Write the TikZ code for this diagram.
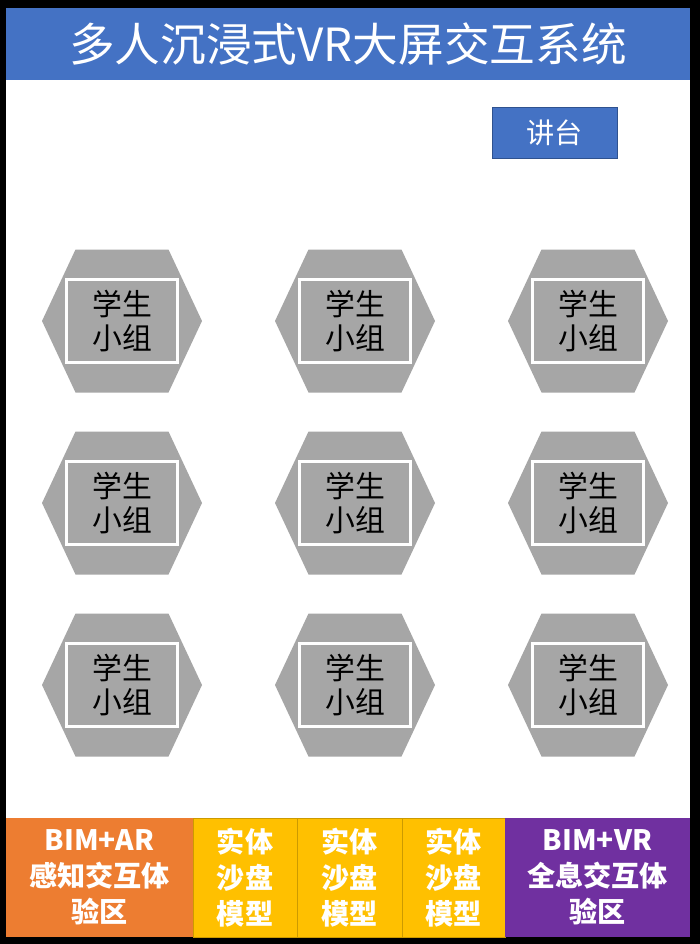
\documentclass[tikz,border=0pt]{standalone}
\usepackage{fontspec}
\setmainfont{Noto Sans CJK SC}
\definecolor{titleblue}{HTML}{4472C4}
\definecolor{podiumline}{HTML}{2F528F}
\definecolor{hexgray}{HTML}{A6A6A6}
\definecolor{zoneorange}{HTML}{ED7D31}
\definecolor{zoneyellow}{HTML}{FFC000}
\definecolor{zonepurple}{HTML}{7030A0}
\begin{document}
\begin{tikzpicture}[
        x=0.02cm, y=-0.02cm,
        every node/.style={inner sep=0pt, align=center},
        groupbox/.style={draw=white, line width=0.06cm, fill=hexgray,
            minimum width=2.22cm, minimum height=1.66cm,
            font=\fontsize{17}{19}\selectfont},
        zone/.style={minimum height=2.38cm, text=white,
            font=\fontsize{16}{20.5}\selectfont\bfseries}
    ]
        % frame
        \fill[black] (0,0) rectangle (700,944);
        \fill[white] (6,8) rectangle (690,937);
        % title and podium
        \node[fill=titleblue, minimum width=13.68cm, minimum height=1.44cm,
            text=white, font=\fontsize{26}{30}\selectfont] (title) at (348,44)
            {多人沉浸式VR大屏交互系统};
        \node[fill=titleblue, draw=podiumline, thin, minimum width=2.5cm,
            minimum height=1.02cm, text=white, font=\fontsize{16}{18}\selectfont]
            (podium) at (554.5,132.5) {讲台};
        % student groups
        \foreach \cx [count=\i] in {122,355,588}
            \foreach \ry [count=\j] in {321,503,685} {
                \fill[hexgray] (\cx-80,\ry) -- (\cx-46.5,\ry-71.5) -- (\cx+46.5,\ry-71.5)
                    -- (\cx+80,\ry) -- (\cx+46.5,\ry+71.5) -- (\cx-46.5,\ry+71.5) -- cycle;
                \node[groupbox] (group\j\i) at (\cx,\ry) {学生\\小组};
            }
        % bottom zones
        \node[zone, fill=zoneorange, minimum width=3.74cm] (arzone) at (99.5,877.5)
            {BIM+AR\\感知交互体\\验区};
        \node[zone, fill=zoneyellow, draw=zoneyellow!80!black, thin,
            minimum width=2.08cm] (sand1) at (245,877.5) {实体\\沙盘\\模型};
        \node[zone, fill=zoneyellow, draw=zoneyellow!80!black, thin,
            minimum width=2.1cm] (sand2) at (349.5,877.5) {实体\\沙盘\\模型};
        \node[zone, fill=zoneyellow, draw=zoneyellow!80!black, thin,
            minimum width=2.06cm] (sand3) at (453.5,877.5) {实体\\沙盘\\模型};
        \node[zone, fill=zonepurple, minimum width=3.7cm] (vrzone) at (597.5,877.5)
            {BIM+VR\\全息交互体\\验区};
\end{tikzpicture}
\end{document}
